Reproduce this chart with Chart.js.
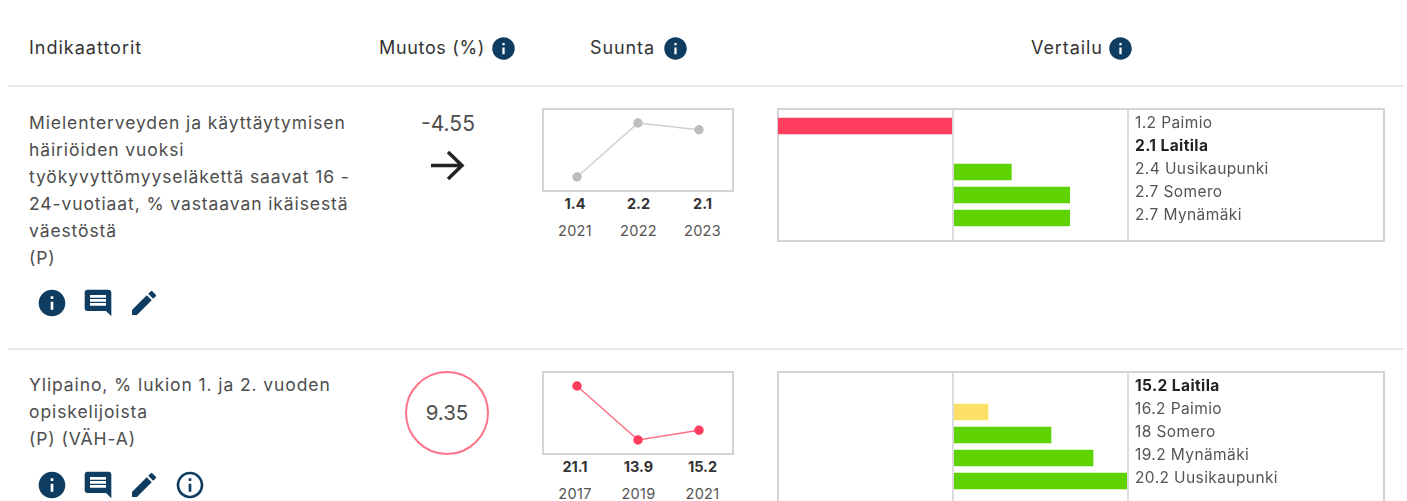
<!DOCTYPE html>
<html lang="fi">
<head>
<meta charset="utf-8">
<title>Indikaattorit</title>
<script src="https://cdn.jsdelivr.net/npm/chart.js@4"></script>
<style>
    html, body { margin: 0; padding: 0; background: #fff; }
    body { position: relative; width: 1407px; height: 501px; overflow: hidden; font-family: Inter, sans-serif; color: #4a4a4a; }
    .abs { position: absolute; white-space: nowrap; }
    .head { font-size: 18px; line-height: 24px; color: #333; letter-spacing: 0.9px; }
    .rule { position: absolute; left: 8px; width: 1396px; height: 2px; background: #e9e9e9; }
    .desc { left: 29px; font-size: 17.5px; line-height: 27px; color: #4d4d4d; letter-spacing: 0.9px; }
    .box { position: absolute; box-sizing: border-box; border: 2px solid #d4d4d4; }
    .box canvas { position: absolute; left: 0; top: 0; }
    .box.compare canvas { left: -1px; }
    .val { width: 60px; margin-left: -30px; text-align: center; font-size: 14.5px; line-height: 20px; font-weight: 700; color: #333; }
    .year { width: 60px; margin-left: -30px; text-align: center; font-size: 14.5px; line-height: 20px; color: #555; letter-spacing: 0.3px; }
    .change { width: 90px; text-align: center; font-size: 21px; line-height: 26px; color: #4d4d4d; }
    .circle { position: absolute; box-sizing: border-box; left: 405px; top: 371px; width: 84px; height: 84px; border: 2px solid #ff7389; border-radius: 50%; }
    svg { position: absolute; }
</style>
</head>
<body>

<div class="abs head" style="left:29px;top:36px;letter-spacing:1px">Indikaattorit</div>
<div class="abs head" style="left:379px;top:36px;letter-spacing:0.66px">Muutos (%)</div>
<div class="abs head" style="left:590px;top:36px">Suunta</div>
<div class="abs head" style="left:1031px;top:36px">Vertailu</div>
<div class="rule" style="top:85px"></div>
<div class="rule" style="top:348px"></div>

<div class="abs desc" style="top:109px">Mielenterveyden ja käyttäytymisen<br>häiriöiden vuoksi<br>työkyvyttömyyseläkettä saavat 16 -<br>24-vuotiaat, % vastaavan ikäisestä<br>väestöstä<br>(P)</div>
<div class="abs desc" style="top:371px">Ylipaino, % lukion 1. ja 2. vuoden<br>opiskelijoista<br>(P) (VÄH-A)</div>

<div class="abs change" style="left:403px;top:111px">-4.55</div>
<svg style="left:427px;top:148px" width="40" height="36" viewBox="0 0 40 36">
    <path d="M4 17.5H35M21 4L35 17.5L21 31" fill="none" stroke="#222" stroke-width="3.5"/>
</svg>
<div class="circle"></div>
<div class="abs change" style="left:402px;top:400px;font-size:20.5px">9.35</div>

<div class="box" style="left:542px;top:108px;width:192px;height:84px"><canvas id="trendChartA" width="188" height="80"></canvas></div>
<div class="box" style="left:542px;top:371px;width:192px;height:84px"><canvas id="trendChartB" width="188" height="80"></canvas></div>
<div class="box compare" style="left:777px;top:108px;width:608px;height:134px"><canvas id="compareChartA" width="606" height="130"></canvas></div>
<div class="box compare" style="left:777px;top:371px;width:608px;height:134px"><canvas id="compareChartB" width="606" height="130"></canvas></div>

<script>
// Indicator A: Mielenterveyden ... tyokyvyttomyyselake
const yearsA = ['2021', '2022', '2023'];
const trendA = [1.4, 2.2, 2.1];
const townsA = ['Paimio', 'Laitila', 'Uusikaupunki', 'Somero', 'Mynämäki'];
const townValuesA = [1.2, 2.1, 2.4, 2.7, 2.7];
const barColorsA = ['#ff3d5f', '#ff3d5f', '#5fd300', '#5fd300', '#5fd300'];

// Indicator B: Ylipaino
const yearsB = ['2017', '2019', '2021'];
const trendB = [21.1, 13.9, 15.2];
const townsB = ['Laitila', 'Paimio', 'Somero', 'Mynämäki', 'Uusikaupunki'];
const townValuesB = [15.2, 16.2, 18, 19.2, 20.2];
const barColorsB = ['#ffe066', '#ffe066', '#5fd300', '#5fd300', '#5fd300'];

const homeTown = 'Laitila';
const textFont = 'Inter, sans-serif';
const BLUE = '#0f3d61';

const ICON_INFO = 'M12 2C6.48 2 2 6.48 2 12s4.48 10 10 10 10-4.48 10-10S17.52 2 12 2zm1 15h-2v-6h2v6zm0-8h-2V7h2v2z';
const ICON_NOTE = 'M4 2h16c1.1 0 1.99.9 1.99 2L22 22l-4-4H4c-1.1 0-2-.9-2-2V4c0-1.1.9-2 2-2zm2 12h12v-2H6v2zm0-3h12V9H6v2zm0-3h12V6H6v2z';
const ICON_EDIT = 'M3 17.25V21h3.75L17.81 9.94l-3.75-3.75L3 17.25zM20.71 7.04c.39-.39.39-1.02 0-1.41l-2.34-2.34c-.39-.39-1.02-.39-1.41 0l-1.83 1.83 3.75 3.75 1.83-1.83z';
const ICON_OUTLINE = 'M11 7h2v2h-2zm0 4h2v6h-2zm1-9C6.48 2 2 6.48 2 12s4.48 10 10 10 10-4.48 10-10S17.52 2 12 2zm0 18c-4.41 0-8-3.59-8-8s3.59-8 8-8 8 3.59 8 8-3.59 8-8 8z';

function addIcon(path, left, top, size) {
    const svg = document.createElementNS('http://www.w3.org/2000/svg', 'svg');
    svg.setAttribute('width', size);
    svg.setAttribute('height', size);
    svg.setAttribute('viewBox', '0 0 24 24');
    svg.style.left = left + 'px';
    svg.style.top = top + 'px';
    svg.innerHTML = '<path fill="' + BLUE + '" fill-rule="evenodd" d="' + path + '"/>';
    document.body.appendChild(svg);
}

addIcon(ICON_INFO, 490, 35, 27);
addIcon(ICON_INFO, 662, 35, 27);
addIcon(ICON_INFO, 1107, 35, 27);

addIcon(ICON_INFO, 36, 287, 32);
addIcon(ICON_NOTE, 82, 287, 32);
addIcon(ICON_EDIT, 128, 287, 32);

addIcon(ICON_INFO, 36, 469, 32);
addIcon(ICON_NOTE, 82, 469, 32);
addIcon(ICON_EDIT, 128, 469, 32);
addIcon(ICON_OUTLINE, 174, 469, 32);

// values and years under the small line charts
function addTrendLabels(values, years, top) {
    const centers = [575, 638.5, 702.5];
    values.forEach(function (v, i) {
        const valEl = document.createElement('div');
        valEl.className = 'abs val';
        valEl.style.left = centers[i] + 'px';
        valEl.style.top = top + 'px';
        valEl.textContent = v;
        document.body.appendChild(valEl);

        const yearEl = document.createElement('div');
        yearEl.className = 'abs year';
        yearEl.style.left = centers[i] + 'px';
        yearEl.style.top = (top + 27) + 'px';
        yearEl.textContent = years[i];
        document.body.appendChild(yearEl);
    });
}

addTrendLabels(trendA, yearsA, 194);
addTrendLabels(trendB, yearsB, 457);

function drawTrend(canvasId, years, values, lineColor, pointColor) {
    new Chart(document.getElementById(canvasId), {
        type: 'line',
        data: {
            labels: years,
            datasets: [{
                data: values,
                borderColor: lineColor,
                borderWidth: 1.5,
                pointBackgroundColor: pointColor,
                pointBorderColor: pointColor,
                pointRadius: 4,
                tension: 0,
                clip: false
            }]
        },
        options: {
            responsive: false,
            animation: false,
            layout: { autoPadding: false, padding: { top: 13, bottom: 13, left: 2.5, right: 2.5 } },
            scales: {
                x: { display: false, offset: true },
                y: { display: false, min: Math.min(...values), max: Math.max(...values) }
            },
            plugins: { legend: { display: false }, tooltip: { enabled: false } }
        }
    });
}

// vertical lines at the home town value and at the scale end, full canvas height
const compareLines = {
    id: 'compareLines',
    beforeDraw(chart) {
        chart.ctx.letterSpacing = '0.4px';
    },
    afterDatasetsDraw(chart) {
        const { ctx, scales } = chart;
        const home = chart.options.plugins.compareLines.home;
        ctx.save();
        ctx.strokeStyle = '#dcdcdc';
        ctx.lineWidth = 2;
        [home, scales.x.max].forEach(function (v) {
            const x = Math.round(scales.x.getPixelForValue(v));
            ctx.beginPath();
            ctx.moveTo(x, 0);
            ctx.lineTo(x, chart.height);
            ctx.stroke();
        });
        ctx.restore();
    }
};

function drawCompare(canvasId, towns, values, colors) {
    const home = values[towns.indexOf(homeTown)];
    const reach = Math.max(...values.map(v => Math.abs(v - home)));
    new Chart(document.getElementById(canvasId), {
        type: 'bar',
        data: {
            labels: towns.map((t, i) => values[i] + ' ' + t),
            datasets: [{
                data: values.map(v => [home, v]),
                backgroundColor: colors,
                barThickness: 16,
                borderSkipped: false
            }]
        },
        options: {
            indexAxis: 'y',
            responsive: false,
            animation: false,
            layout: { autoPadding: false, padding: { top: 4.5, bottom: 10.5, left: 0, right: 0 } },
            scales: {
                x: { display: false, min: home - reach, max: home + reach },
                y: {
                    position: 'right',
                    afterFit(scale) {
                        scale.width = 256;
                        scale.paddingTop = 0;
                        scale.paddingBottom = 0;
                    },
                    border: { display: false },
                    grid: { display: false, drawTicks: false },
                    ticks: {
                        padding: 7,
                        labelOffset: -3,
                        autoSkip: false,
                        color: (c) => towns[c.index] === homeTown ? '#222' : '#555',
                        font: (c) => ({
                            family: textFont,
                            size: 15.5,
                            weight: towns[c.index] === homeTown ? '700' : '400'
                        })
                    }
                }
            },
            plugins: {
                legend: { display: false },
                tooltip: { enabled: false },
                compareLines: { home: home }
            }
        },
        plugins: [compareLines]
    });
}

drawTrend('trendChartA', yearsA, trendA, '#cfcfcf', '#bdbdbd');
drawTrend('trendChartB', yearsB, trendB, '#ff6f85', '#ff3d5f');
drawCompare('compareChartA', townsA, townValuesA, barColorsA);
drawCompare('compareChartB', townsB, townValuesB, barColorsB);
</script>
</body>
</html>
